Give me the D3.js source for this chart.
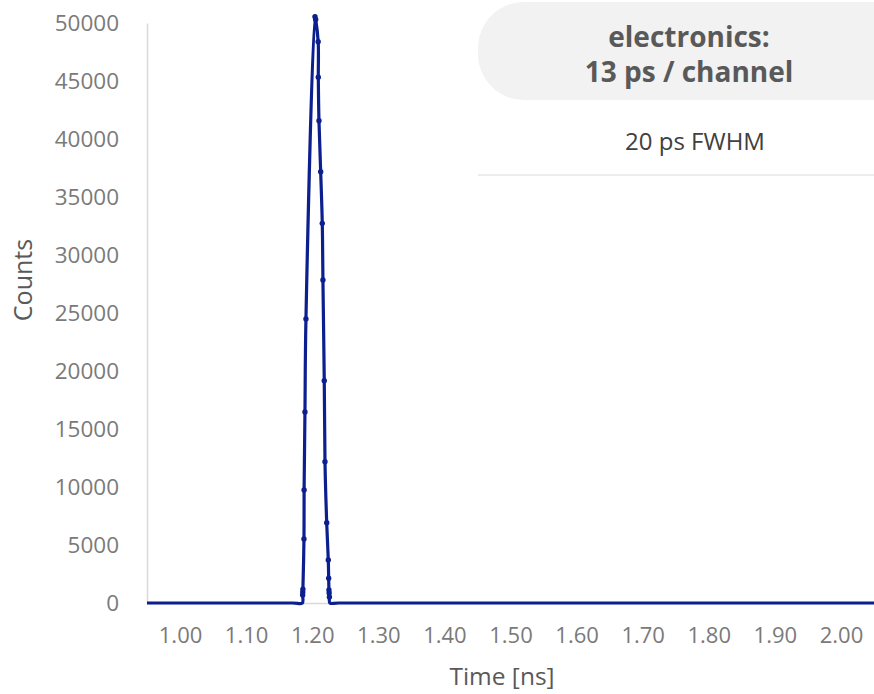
<!DOCTYPE html>
<html>
<head>
<meta charset="utf-8">
<script src="https://cdn.jsdelivr.net/npm/d3@7"></script>
<style>
  html, body { margin: 0; padding: 0; background: #ffffff; }
  svg { display: block; font-family: "Open Sans", "Noto Sans", sans-serif; }
</style>
</head>
<body>
<svg id="chart" width="874" height="694"></svg>
<script>
// Measured timing histogram (time in ns, counts per channel)
const timeNs = [0.95, 1.17, 1.1850, 1.1855, 1.1857, 1.1859, 1.1875, 1.1877, 1.1890, 1.1905,
                1.2042, 1.2052, 1.2090, 1.2092, 1.2102, 1.2128, 1.2152, 1.2162, 1.2182, 1.2193,
                1.2219, 1.2243, 1.2249, 1.2253, 1.2256, 1.2260, 1.2268, 1.24, 2.05];
const counts = [0, 0, 0, 690, 950, 1200, 5520, 9740, 16460, 24480,
                50540, 50300, 48390, 45320, 41570, 37180, 32730, 27840, 19160, 12180,
                6920, 3710, 2130, 1120, 860, 520, 0, 0, 0];

const xTicks = [1.0, 1.1, 1.2, 1.3, 1.4, 1.5, 1.6, 1.7, 1.8, 1.9, 2.0];
const yTicks = [0, 5000, 10000, 15000, 20000, 25000, 30000, 35000, 40000, 45000, 50000];

const xTitle = "Time [ns]";
const yTitle = "Counts";
const noteTitle = ["electronics:", "13 ps / channel"];
const noteText = "20 ps FWHM";

const lineColor = "#0b1f8e";
const axisColor = "#d9d9d9";
const tickColor = "#7a7a7a";
const titleColor = "#595959";

const svg = d3.select("#chart");

const x = d3.scaleLinear().domain([0.95, 2.05]).range([147, 874]);
const y = d3.scaleLinear().domain([0, 50000]).range([603, 23]);

// Annotation box in the upper right
const note = svg.append("g");
note.append("rect")
  .attr("x", 478).attr("y", 2)
  .attr("width", 440).attr("height", 98)
  .attr("rx", 46).attr("ry", 46)
  .attr("fill", "#f2f2f2");
note.selectAll("text.title")
  .data(noteTitle)
  .join("text")
  .attr("class", "title")
  .attr("x", 689)
  .attr("y", (d, i) => 47 + i * 35)
  .attr("text-anchor", "middle")
  .attr("font-size", 28)
  .attr("font-weight", 700)
  .attr("fill", titleColor)
  .text(d => d);
note.append("text")
  .attr("x", 695).attr("y", 150)
  .attr("text-anchor", "middle")
  .attr("font-size", 24)
  .attr("fill", "#404040")
  .text(noteText);
note.append("line")
  .attr("x1", 478).attr("x2", 874)
  .attr("y1", 175).attr("y2", 175)
  .attr("stroke", axisColor).attr("stroke-width", 1);

// Axes
const yAxis = svg.append("g")
  .attr("transform", "translate(147,0)")
  .call(d3.axisLeft(y).tickValues(yTicks).tickFormat(d3.format("d")).tickSize(0).tickPadding(28));
yAxis.select(".domain").attr("stroke", axisColor).attr("stroke-width", 1.5);
yAxis.selectAll("text")
  .attr("font-size", 22.5)
  .attr("fill", tickColor)
  .attr("font-family", "'Open Sans', 'Noto Sans', sans-serif");

const xAxis = svg.append("g")
  .attr("transform", "translate(0,603)")
  .call(d3.axisBottom(x).tickValues(xTicks).tickFormat(d3.format(".2f")).tickSize(0).tickPadding(24));
xAxis.select(".domain").attr("stroke", axisColor).attr("stroke-width", 1.5);
xAxis.selectAll("text")
  .attr("font-size", 22)
  .attr("fill", tickColor)
  .attr("font-family", "'Open Sans', 'Noto Sans', sans-serif");

// Axis titles
svg.append("text")
  .attr("x", 502).attr("y", 685)
  .attr("text-anchor", "middle")
  .attr("font-size", 24.5)
  .attr("fill", titleColor)
  .text(xTitle);
svg.append("text")
  .attr("transform", "translate(32,280) rotate(-90)")
  .attr("text-anchor", "middle")
  .attr("font-size", 25)
  .attr("fill", titleColor)
  .text(yTitle);

// Data series: smoothed line plus markers
const pts = timeNs.map((t, i) => ({ t, c: counts[i] }));

const line = d3.line()
  .x(d => x(d.t))
  .y(d => y(d.c))
  .curve(d3.curveCatmullRom.alpha(0.5));

svg.append("path")
  .datum(pts)
  .attr("d", line)
  .attr("fill", "none")
  .attr("stroke", lineColor)
  .attr("stroke-width", 3.2)
  .attr("stroke-linejoin", "round");

svg.append("g")
  .selectAll("circle")
  .data(pts.filter(d => d.c > 0))
  .join("circle")
  .attr("cx", d => x(d.t))
  .attr("cy", d => y(d.c))
  .attr("r", 2.7)
  .attr("fill", lineColor);
</script>
</body>
</html>
